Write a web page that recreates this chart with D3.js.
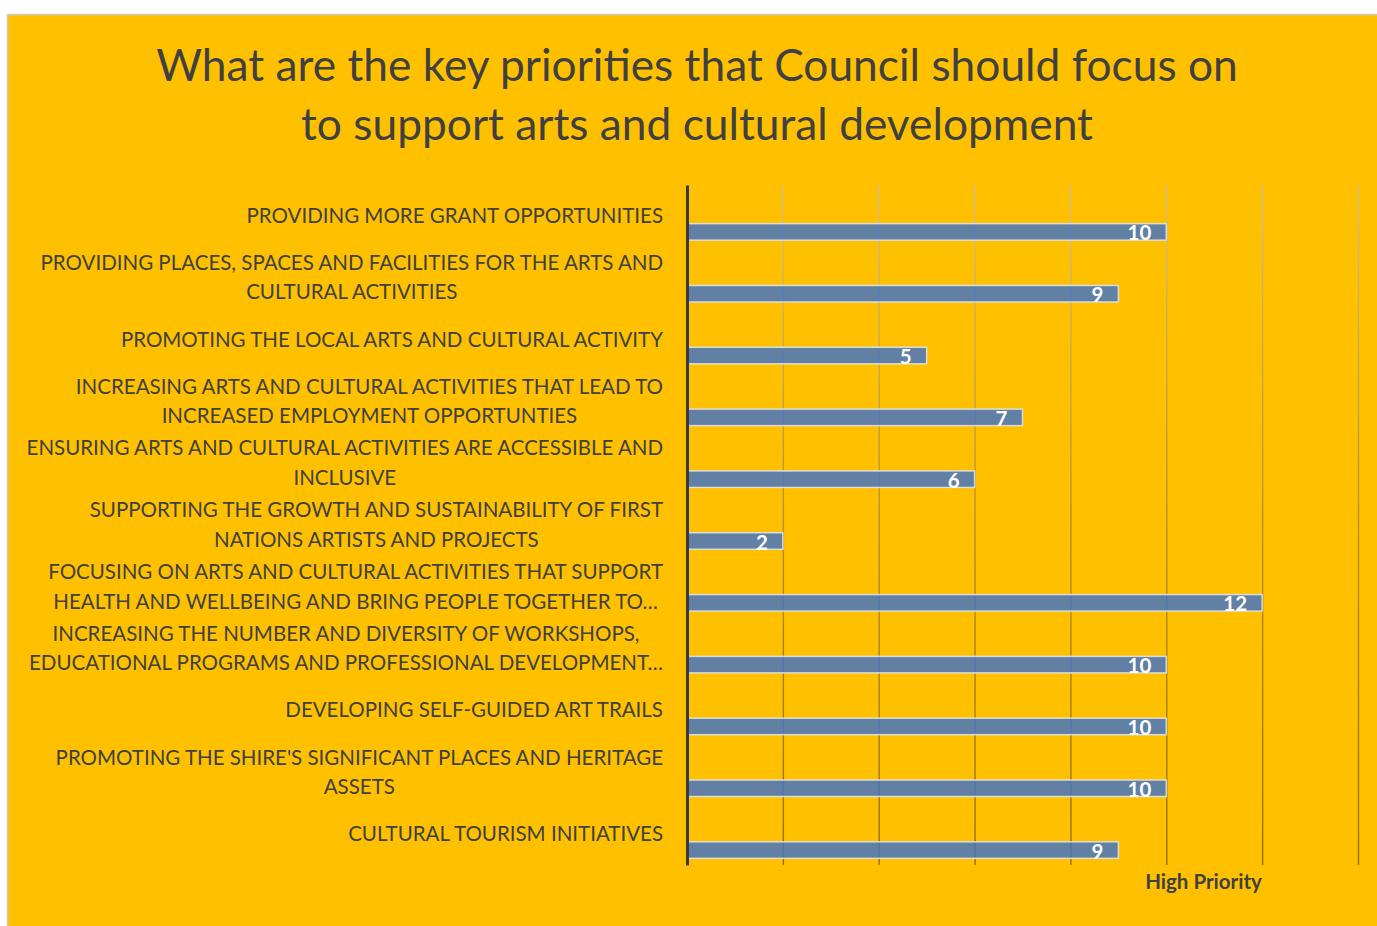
<!DOCTYPE html>
<html>
<head>
<meta charset="utf-8">
<script src="https://cdn.jsdelivr.net/npm/d3@7"></script>
<style>
  html, body { margin: 0; padding: 0; background: #ffffff; }
  svg { display: block; }
</style>
</head>
<body>
<svg id="chart" width="1377" height="926"></svg>
<script>
// Survey question and response counts
const titleLines = [
  "What are the key priorities that Council should focus on",
  "to support arts and cultural development"
];

const categories = [
  ["PROVIDING MORE GRANT OPPORTUNITIES"],
  ["PROVIDING PLACES, SPACES AND FACILITIES FOR THE ARTS AND", "CULTURAL ACTIVITIES"],
  ["PROMOTING THE LOCAL ARTS AND CULTURAL ACTIVITY"],
  ["INCREASING ARTS AND CULTURAL ACTIVITIES THAT LEAD TO", "INCREASED EMPLOYMENT OPPORTUNTIES"],
  ["ENSURING ARTS AND CULTURAL ACTIVITIES ARE ACCESSIBLE AND", "INCLUSIVE"],
  ["SUPPORTING THE GROWTH AND SUSTAINABILITY OF FIRST", "NATIONS ARTISTS AND PROJECTS"],
  ["FOCUSING ON ARTS AND CULTURAL ACTIVITIES THAT SUPPORT", "HEALTH AND WELLBEING AND BRING PEOPLE TOGETHER TO…"],
  ["INCREASING THE NUMBER AND DIVERSITY OF WORKSHOPS,", "EDUCATIONAL PROGRAMS AND PROFESSIONAL DEVELOPMENT…"],
  ["DEVELOPING SELF-GUIDED ART TRAILS"],
  ["PROMOTING THE SHIRE'S SIGNIFICANT PLACES AND HERITAGE", "ASSETS"],
  ["CULTURAL TOURISM INITIATIVES"]
];

const highPriority = [10, 9, 5, 7, 6, 2, 12, 10, 10, 10, 9];

const xTicks = [0, 2, 4, 6, 8, 10, 12, 14];
const seriesName = "High Priority";

const W = 1377, H = 926;
const FONT = "Lato, 'Open Sans', sans-serif";
const TEXT = "#404040";

const svg = d3.select("#chart");

// Chart area background with thin border
svg.append("rect")
  .attr("x", 7.5).attr("y", 14.5)
  .attr("width", W).attr("height", H)
  .attr("fill", "#FFC000")
  .attr("stroke", "#c8c8c8").attr("stroke-width", 1.5);

// Title
svg.append("g").selectAll("text")
  .data(titleLines)
  .join("text")
  .attr("x", 697)
  .attr("y", (d, i) => 81 + i * 59)
  .attr("text-anchor", "middle")
  .attr("font-family", FONT)
  .attr("font-size", 44.3)
  .attr("fill", TEXT)
  .text(d => d);

// Plot area
const plot = { left: 687, right: 1358, top: 185, bottom: 865 };
const plotH = plot.bottom - plot.top;

const x = d3.scaleLinear().domain([0, 14]).range([plot.left, plot.right]);
const y = d3.scaleBand()
  .domain(d3.range(categories.length))
  .range([plot.top, plot.bottom])
  .paddingInner(0).paddingOuter(0);

// Vertical gridlines shaded from light at the top to darker at the bottom
// (gradient is in the tick lines' local space: y runs from -plotH to 0)
const defs = svg.append("defs");
const grad = defs.append("linearGradient")
  .attr("id", "gridGrad")
  .attr("gradientUnits", "userSpaceOnUse")
  .attr("x1", 0).attr("x2", 0)
  .attr("y1", -plotH).attr("y2", 0);
grad.append("stop").attr("offset", "0%").attr("stop-color", "#d3c08c");
grad.append("stop").attr("offset", "50%").attr("stop-color", "#b4902e");
grad.append("stop").attr("offset", "100%").attr("stop-color", "#937000");

const xAxis = d3.axisBottom(x)
  .tickValues(xTicks.slice(1))
  .tickSize(-plotH)
  .tickFormat("");

const gridG = svg.append("g")
  .attr("transform", `translate(0,${plot.bottom})`)
  .call(xAxis);
gridG.select(".domain").remove();
gridG.selectAll(".tick line")
  .attr("stroke", "url(#gridGrad)")
  .attr("stroke-width", 1.4);

// Bars sit in the lower part of each category band
const barH = 16.5;
const barY = i => y(i) + y.bandwidth() / 2 + 16 - barH / 2;

svg.append("g").selectAll("rect")
  .data(highPriority)
  .join("rect")
  .attr("x", x(0))
  .attr("y", (d, i) => barY(i))
  .attr("width", d => x(d) - x(0))
  .attr("height", barH)
  .attr("fill", "#4472C4")
  .attr("fill-opacity", 0.84)
  .attr("stroke", "#dfe3e8")
  .attr("stroke-opacity", 0.9)
  .attr("stroke-width", 1.5);

// Value labels inside bar ends
svg.append("g").selectAll("text")
  .data(highPriority)
  .join("text")
  .attr("x", d => x(d) - 15)
  .attr("y", (d, i) => barY(i) + barH / 2 + 8.5)
  .attr("text-anchor", "end")
  .attr("font-family", FONT)
  .attr("font-size", 20.5)
  .attr("font-weight", "bold")
  .attr("fill", "#ffffff")
  .text(d => d);

// Vertical category axis
const yAxis = d3.axisLeft(y).tickSize(0).tickFormat("");
const yAxisG = svg.append("g")
  .attr("transform", `translate(${plot.left},0)`)
  .call(yAxis);
yAxisG.select(".domain")
  .attr("stroke", "#3a3a3a")
  .attr("stroke-width", 3);

// Category labels: each block right-aligned, lines centered within it
const labelRight = 663;
const lineGap = 29.5;
const labelG = svg.append("g");
categories.forEach((lines, i) => {
  const cy = y(i) + y.bandwidth() / 2;
  const texts = lines.map((line, j) =>
    labelG.append("text")
      .attr("y", cy + (j - (lines.length - 1) / 2) * lineGap + 7)
      .attr("text-anchor", "middle")
      .attr("font-family", FONT)
      .attr("font-size", 20.5)
      .attr("fill", TEXT)
      .text(line));
  const w = d3.max(texts, t => t.node().getComputedTextLength());
  texts.forEach(t => t.attr("x", labelRight - w / 2));
});

// Series label
svg.append("text")
  .attr("x", 1203.5)
  .attr("y", 889)
  .attr("text-anchor", "middle")
  .attr("font-family", FONT)
  .attr("font-size", 20.5)
  .attr("font-weight", "bold")
  .attr("fill", TEXT)
  .text(seriesName);
</script>
</body>
</html>
